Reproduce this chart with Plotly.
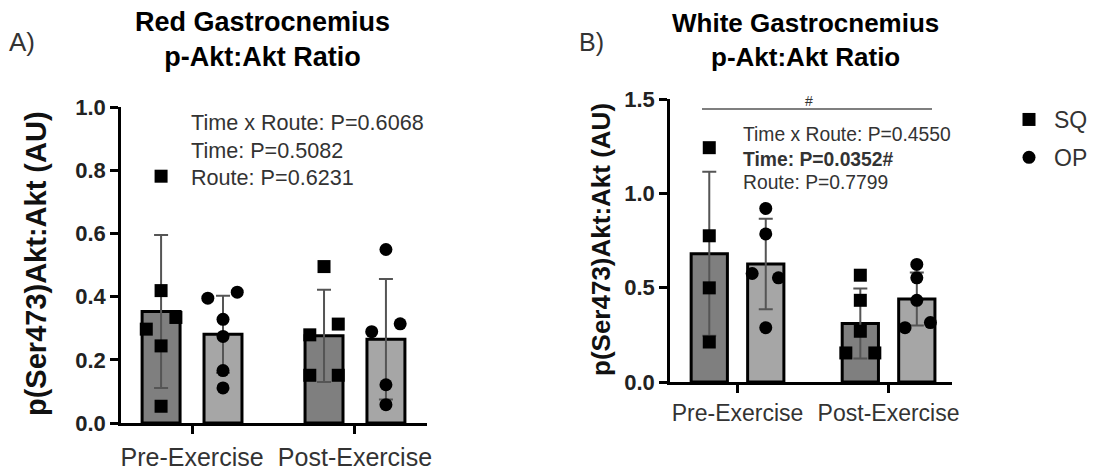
import plotly.graph_objects as go

# ---------------- data ----------------
categories = ["Pre-Exercise", "Post-Exercise"]

# Red gastrocnemius (panel A)
red_sq_mean = [0.353, 0.276]
red_sq_sd = [0.242, 0.146]
red_op_mean = [0.281, 0.265]
red_op_sd = [0.122, 0.191]
red_sq_pre = [0.781, 0.419, 0.334, 0.297, 0.244, 0.053]
red_op_pre = [0.395, 0.414, 0.328, 0.274, 0.166, 0.111]
red_sq_post = [0.495, 0.313, 0.279, 0.151, 0.151]
red_op_post = [0.549, 0.314, 0.289, 0.121, 0.058]

# White gastrocnemius (panel B)
white_sq_mean = [0.68, 0.31]
white_sq_sd = [0.435, 0.186]
white_op_mean = [0.625, 0.44]
white_op_sd = [0.24, 0.14]
white_sq_pre = [1.242, 0.775, 0.499, 0.212]
white_op_pre = [0.920, 0.785, 0.575, 0.552, 0.288]
white_sq_post = [0.566, 0.433, 0.269, 0.154, 0.154]
white_op_post = [0.623, 0.552, 0.433, 0.288, 0.315]

red_ticks = [0, 0.2, 0.4, 0.6, 0.8, 1.0]
white_ticks = [0, 0.5, 1.0, 1.5]

red_stats = ["Time x Route: P=0.6068", "Time: P=0.5082", "Route: P=0.6231"]
white_stats = ["Time x Route: P=0.4550", "<b>Time: P=0.0352#</b>", "Route: P=0.7799"]

# horizontal jitter of individual points (fraction of bar half-width)
red_sq_pre_j = [0, 0, 0.78, -0.78, 0, 0]
red_op_pre_j = [-0.8, 0.75, 0, 0, 0, 0]
red_sq_post_j = [0, 0.75, -0.75, -0.75, 0.75]
red_op_post_j = [0, 0.75, -0.75, 0, 0]
white_sq_pre_j = [0, 0, 0, 0]
white_op_pre_j = [0, 0, -0.75, 0.7, 0]
white_sq_post_j = [0, 0, 0, -0.8, 0.8]
white_op_post_j = [0, 0, 0, -0.65, 0.75]

# ---------------- styling ----------------
OFF = 8                      # page body margin
W, H = 1101 - OFF, 471 - OFF
FONT = "Liberation Sans, Arial, sans-serif"
SQ_COLOR = "#7f7f7f"
OP_COLOR = "#a6a6a6"
ERR_COLOR = "#555555"
TXT = "#333333"


def px(x):
    return (x - OFF) / W


def py(y):
    return 1 - (y - OFF) / H


fig = go.Figure()


def add_panel(xa, ya, sq_mean, sq_sd, op_mean, op_sd, pts, jits, off, bw, show_legend):
    grp = list(range(len(categories)))
    for mean, sd, color, sgn in [(sq_mean, sq_sd, SQ_COLOR, -1), (op_mean, op_sd, OP_COLOR, 1)]:
        fig.add_trace(go.Bar(
            x=[g + sgn * off for g in grp], y=mean, width=bw,
            marker=dict(color=color, line=dict(color="black", width=3)),
            error_y=dict(type="data", array=sd, visible=True, color=ERR_COLOR,
                         thickness=2, width=7),
            xaxis=xa, yaxis=ya, showlegend=False, hoverinfo="skip"))
    (sq_pre, sq_post, op_pre, op_post) = pts
    (sq_pre_j, sq_post_j, op_pre_j, op_post_j) = jits
    half = bw / 2
    for name, sym, sgn, pre, post, pj, qj in [
        ("SQ", "square", -1, sq_pre, sq_post, sq_pre_j, sq_post_j),
        ("OP", "circle", 1, op_pre, op_post, op_pre_j, op_post_j)]:
        xs = [0 + sgn * off + j * half for j in pj] + [1 + sgn * off + j * half for j in qj]
        ys = list(pre) + list(post)
        fig.add_trace(go.Scatter(
            x=xs, y=ys, mode="markers", name=name, legendgroup=name,
            marker=dict(symbol=sym, color="black", size=13, line=dict(width=0)),
            xaxis=xa, yaxis=ya, showlegend=show_legend, cliponaxis=False))


add_panel("x", "y", red_sq_mean, red_sq_sd, red_op_mean, red_op_sd,
          (red_sq_pre, red_sq_post, red_op_pre, red_op_post),
          (red_sq_pre_j, red_sq_post_j, red_op_pre_j, red_op_post_j),
          0.19, 0.233, False)
add_panel("x2", "y2", white_sq_mean, white_sq_sd, white_op_mean, white_op_sd,
          (white_sq_pre, white_sq_post, white_op_pre, white_op_post),
          (white_sq_pre_j, white_sq_post_j, white_op_pre_j, white_op_post_j),
          0.187, 0.24, True)

axis_common = dict(showline=True, linecolor="black", linewidth=2.5, ticks="outside",
                   ticklen=8, tickwidth=2.5, tickcolor="black", showgrid=False,
                   zeroline=False, fixedrange=True, automargin=False)

fig.update_layout(
    width=W, height=H, margin=dict(l=0, r=0, t=0, b=0, autoexpand=False),
    plot_bgcolor="white", paper_bgcolor="white",
    barmode="overlay", font=dict(family=FONT, color="black"),
    xaxis=dict(domain=[px(121), px(427)], range=[-0.436, 1.442], anchor="y",
               tickvals=[0, 1], ticktext=categories, ticklabelstandoff=2,
               tickfont=dict(size=25, color=TXT), **axis_common),
    yaxis=dict(domain=[py(423), py(107)], range=[0, 1.0], anchor="x",
               tickvals=red_ticks, tickformat=".1f",
               tickfont=dict(size=22, color="#222", weight="bold"),
               **axis_common),
    xaxis2=dict(domain=[px(670), px(952)], range=[-0.447, 1.42], anchor="y2",
                tickvals=[0, 1], ticktext=categories, ticklabelstandoff=1,
                tickfont=dict(size=23, color=TXT), **axis_common),
    yaxis2=dict(domain=[py(382), py(99)], range=[0, 1.5], anchor="x2",
                tickvals=white_ticks, tickformat=".1f",
                tickfont=dict(size=22, color="#222", weight="bold"),
                **axis_common),
    legend=dict(x=px(1004), y=py(98), xanchor="left", yanchor="top",
                font=dict(size=23, color=TXT), itemsizing="trace", itemwidth=40,
                tracegroupgap=5, bgcolor="rgba(0,0,0,0)"),
)

ann = []
# titles
ann.append(dict(text="<b>Red Gastrocnemius<br>p-Akt:Akt Ratio</b>", x=px(262), y=py(40),
                font=dict(size=27, color="black")))
ann.append(dict(text="<b>White Gastrocnemius<br>p-Akt:Akt Ratio</b>", x=px(805), y=py(40),
                font=dict(size=26, color="black")))
ann.append(dict(text="A)", x=px(22), y=py(42), font=dict(size=26, color=TXT)))
ann.append(dict(text="B)", x=px(591), y=py(42), font=dict(size=25, color=TXT)))
# y-axis titles
ann.append(dict(text="<b>p(Ser473)Akt:Akt (AU)</b>", x=px(36), y=py(264), textangle=-90,
                font=dict(size=29, color="#111")))
ann.append(dict(text="<b>p(Ser473)Akt:Akt (AU)</b>", x=px(601), y=py(240), textangle=-90,
                font=dict(size=26, color="#111")))
# stats text
for i, t in enumerate(red_stats):
    ann.append(dict(text=t, x=px(189), y=py([122, 151, 177][i]), xanchor="left",
                    font=dict(size=21.6, color=TXT)))
for i, t in enumerate(white_stats):
    ann.append(dict(text=t, x=px(741), y=py([135, 159, 182][i]), xanchor="left",
                    font=dict(size=19.3, color=TXT)))
ann.append(dict(text="#", x=px(809), y=py(101), font=dict(size=14, color=TXT)))
for a in ann:
    a.update(xref="paper", yref="paper", showarrow=False, yanchor=a.get("yanchor", "middle"),
             xanchor=a.get("xanchor", "center"), font=dict(family=FONT, **a["font"]))
fig.update_layout(annotations=ann)

fig.add_shape(type="line", xref="paper", yref="paper", x0=px(702), x1=px(932),
              y0=py(109), y1=py(109), line=dict(color="black", width=1.2))

fig.write_html("out.html")
